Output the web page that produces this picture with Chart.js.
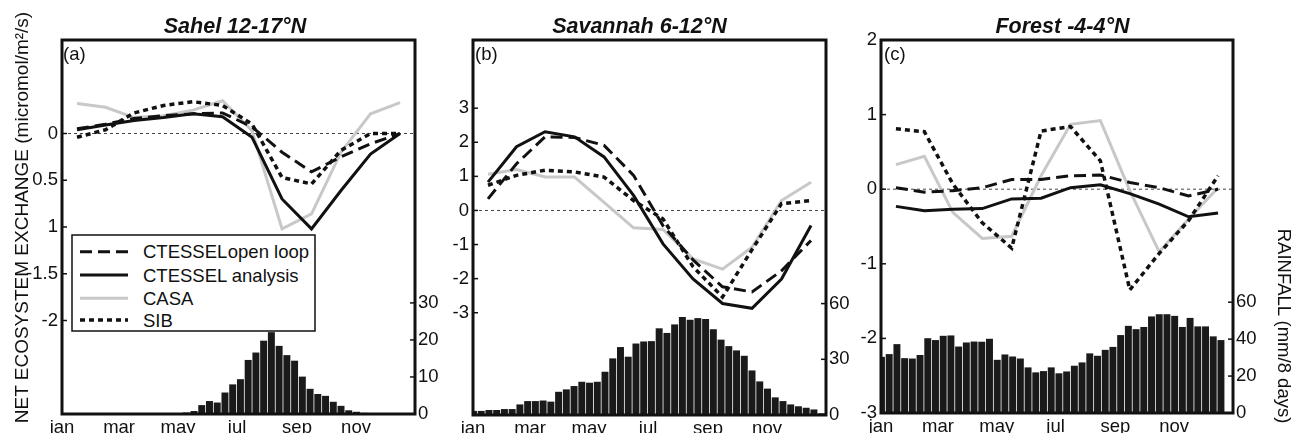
<!DOCTYPE html>
<html>
<head>
<meta charset="utf-8">
<script src="https://cdn.jsdelivr.net/npm/chart.js@4.4.1/dist/chart.umd.min.js"></script>
<style>
  html, body { margin: 0; padding: 0; background: #fff; }
  #wrap { position: relative; width: 1294px; height: 433px; overflow: hidden; }
  canvas { position: absolute; top: 0; }
  #overlay { position: absolute; left: 0; top: 0; }
  #overlay text { font-family: "Liberation Sans", Arial, sans-serif; fill: #111; }
</style>
</head>
<body>
<div id="wrap">
  <canvas id="sahel" width="440" height="433" style="left:0px"></canvas>
  <canvas id="savannah" width="410" height="433" style="left:440px"></canvas>
  <canvas id="forest" width="444" height="433" style="left:850px"></canvas>
  <svg id="overlay" width="1294" height="433"></svg>
</div>
<script>
// x positions are day of year
const monthMid = [15.5, 45, 74.5, 105, 135.5, 166, 196.5, 227.5, 258, 288.5, 319, 349.5];
const monthTickDays = [0, 59, 120, 181, 243, 304];
const monthTickText = ["jan", "mar", "may", "jul", "sep", "nov"];
const seriesNames = ["CTESSEL open loop", "CTESSEL analysis", "CASA", "SIB"];

// Sahel 12-17N
const sahelOpenLoop = [0.05, 0.10, 0.16, 0.19, 0.21, 0.22, 0.07, -0.20, -0.41, -0.25, -0.11, 0.00];
const sahelAnalysis = [0.04, 0.09, 0.14, 0.17, 0.21, 0.18, -0.04, -0.70, -1.02, -0.61, -0.22, 0.00];
const sahelCasa = [0.32, 0.28, 0.17, 0.19, 0.25, 0.35, 0.03, -1.02, -0.86, -0.20, 0.21, 0.33];
const sahelSib = [-0.04, 0.04, 0.22, 0.30, 0.34, 0.30, 0.10, -0.47, -0.54, -0.18, 0.00, 0.00];
const sahelRain = [0, 0, 0, 0, 0, 0, 0, 0, 0, 0, 0, 0, 0, 0, 0,
  0.2, 0.4, 0.8, 2.4, 3.5, 3.1, 5.8, 8.0, 9.4, 14.6, 16.6, 19.8, 22.1, 18.4, 15.9,
  14.4, 10.1, 6.8, 5.4, 4.9, 3.3, 2.2, 1.0, 0.6, 0.3, 0.1, 0, 0, 0, 0, 0];
const sahelTickVals = [0, -0.5, -1, -1.5, -2];
const sahelTickText = ["0", "0.5", "1", "-1.5", "-2"];
const sahelRainTicks = [0, 10, 20, 30];

// Savannah 6-12N
const savOpenLoop = [0.34, 1.37, 2.16, 2.14, 1.91, 1.03, -0.45, -1.45, -2.24, -2.39, -1.77, -0.88];
const savAnalysis = [0.83, 1.87, 2.31, 2.16, 1.57, 0.44, -0.98, -2.01, -2.73, -2.87, -2.01, -0.44];
const savCasa = [1.06, 1.20, 0.98, 0.98, 0.24, -0.51, -0.56, -1.42, -1.72, -1.08, 0.29, 0.83];
const savSib = [0.74, 1.03, 1.18, 1.13, 0.98, 0.29, -0.25, -1.65, -2.54, -1.15, 0.20, 0.29];
const savRain = [2.2, 2.2, 2.7, 2.7, 3.2, 3.2, 5.7, 7.5, 7.5, 7.8, 7.2, 12.5, 13.8, 15.6, 17.9,
  17.4, 17.9, 23.3, 30.5, 36.6, 31.4, 38.5, 39.6, 39.8, 46.7, 44.2, 48.8, 52.8, 51.3, 52.2,
  51.7, 46.2, 40.6, 37.1, 34.8, 31.9, 24.0, 18.1, 14.2, 9.5, 7.5, 5.7, 4.7, 3.9, 3.0, 0.9];
const savTickVals = [3, 2, 1, 0, -1, -2, -3];
const savTickText = ["3", "2", "1", "0", "-1", "-2", "-3"];
const savRainTicks = [0, 30, 60];

// Forest -4-4N
const forOpenLoop = [0.02, -0.04, -0.02, 0.02, 0.13, 0.13, 0.18, 0.19, 0.09, 0.02, -0.09, 0.00];
const forAnalysis = [-0.23, -0.29, -0.27, -0.26, -0.13, -0.12, 0.02, 0.06, -0.06, -0.20, -0.37, -0.32];
const forCasa = [0.33, 0.44, -0.31, -0.66, -0.63, 0.18, 0.87, 0.92, -0.02, -0.84, -0.40, 0.02];
const forSib = [0.81, 0.77, 0.07, -0.45, -0.79, 0.78, 0.84, 0.38, -1.35, -0.86, -0.42, 0.18];
const forRain = [30.4, 31.9, 37.3, 29.7, 29.5, 31.4, 40.5, 39.5, 41.8, 42.0, 36.0, 38.2, 38.7, 38.6, 40.2,
  28.8, 31.7, 30.6, 29.5, 24.7, 22.0, 22.7, 24.7, 21.5, 22.5, 25.6, 27.4, 32.3, 31.0, 34.2,
  35.8, 42.2, 47.2, 45.4, 46.6, 52.3, 53.5, 53.5, 52.6, 46.6, 51.5, 46.9, 46.9, 41.5, 39.5, 0];
const forTickVals = [2, 1, 0, -1, -2, -3];
const forTickText = ["2", "1", "0", "-1", "-2", "-3"];
const forRainTicks = [0, 20, 40, 60];

const FONT = '"Liberation Sans", Arial, sans-serif';
const INK = "#111";
const lineStyles = [
  { color: INK, dash: [12, 6], width: 3 },     // open loop
  { color: INK, dash: [], width: 3 },          // analysis
  { color: "#c8c8c8", dash: [], width: 3 },    // CASA
  { color: INK, dash: [5, 4], width: 3.5 }     // SIB
];

// box + small inward ticks
const framePlugin = {
  id: "frame",
  afterDraw(chart) {
    const { ctx, chartArea: a, scales } = chart;
    ctx.save();
    ctx.strokeStyle = INK;
    ctx.lineWidth = 1.5;
    ["y", "y2"].forEach(id => {
      const s = scales[id];
      s.ticks.forEach(t => {
        const py = s.getPixelForValue(t.value);
        ctx.beginPath();
        if (id === "y") { ctx.moveTo(a.left, py); ctx.lineTo(a.left + 5, py); }
        else { ctx.moveTo(a.right, py); ctx.lineTo(a.right - 5, py); }
        ctx.stroke();
      });
    });
    ctx.lineWidth = 3;
    ctx.strokeRect(a.left, a.top, a.right - a.left, a.bottom - a.top);
    ctx.restore();
  }
};

function makePanel(id, cfg) {
  const lines = cfg.series.map((vals, i) => ({
    type: "line",
    label: seriesNames[i],
    data: vals.map((v, k) => ({ x: monthMid[k], y: v })),
    borderColor: lineStyles[i].color,
    borderDash: lineStyles[i].dash,
    borderWidth: lineStyles[i].width,
    borderCapStyle: "butt",
    pointRadius: 0,
    tension: 0,
    fill: false,
    order: i === 2 ? 4 : 3 - i,
    yAxisID: "y"
  }));
  const zero = {
    type: "line",
    data: [{ x: 0, y: 0 }, { x: 365, y: 0 }],
    borderColor: "#444",
    borderWidth: 1,
    borderDash: [3, 3],
    pointRadius: 0,
    order: 6,
    yAxisID: "y"
  };
  const bars = {
    type: "bar",
    data: cfg.rain.map((v, j) => ({ x: 8 * j + 0.5, y: v })),
    backgroundColor: "#1a1a1a",
    borderWidth: 0,
    barPercentage: 0.9,
    categoryPercentage: 1,
    order: 10,
    yAxisID: "y2"
  };
  const tickFont = { family: FONT, size: 18.5 };
  return new Chart(document.getElementById(id), {
    type: "bar",
    data: { datasets: [bars, zero, ...lines] },
    options: {
      responsive: false,
      animation: false,
      devicePixelRatio: 1,
      layout: { padding: { top: 40, left: 0, right: 0, bottom: 0 } },
      plugins: { legend: { display: false }, tooltip: { enabled: false } },
      scales: {
        x: {
          type: "linear", min: 0, max: 365, offset: false,
          grid: { display: false, drawTicks: false },
          border: { display: false },
          afterBuildTicks: s => { s.ticks = monthTickDays.map(v => ({ value: v })); },
          afterFit: s => { s.height = cfg.xh; },
          ticks: { autoSkip: false, maxRotation: 0, padding: 3, color: INK, font: tickFont,
            callback: (v, i) => monthTickText[i] }
        },
        y: {
          type: "linear", position: "left", min: cfg.ymin, max: cfg.ymax,
          grid: { display: false, drawTicks: false },
          border: { display: false },
          afterBuildTicks: s => { s.ticks = cfg.tickVals.map(v => ({ value: v })); },
          afterFit: s => { s.width = cfg.yw; },
          ticks: { padding: 4, color: INK, font: tickFont, callback: (v, i) => cfg.tickText[i] }
        },
        y2: {
          type: "linear", position: "right", min: 0, max: cfg.rmax,
          grid: { display: false, drawTicks: false },
          border: { display: false },
          afterBuildTicks: s => { s.ticks = cfg.rainTicks.map(v => ({ value: v })); },
          afterFit: s => { s.width = cfg.y2w; },
          ticks: { padding: 3, color: INK, font: tickFont, callback: (v, i) => String(cfg.rainTicks[i]) }
        }
      }
    },
    plugins: [framePlugin]
  });
}

makePanel("sahel", {
  series: [sahelOpenLoop, sahelAnalysis, sahelCasa, sahelSib], rain: sahelRain,
  ymin: -3, ymax: 1, tickVals: sahelTickVals, tickText: sahelTickText,
  rmax: 101, rainTicks: sahelRainTicks, yw: 62, y2w: 25, xh: 19
});
makePanel("savannah", {
  series: [savOpenLoop, savAnalysis, savCasa, savSib], rain: savRain,
  ymin: -6, ymax: 5, tickVals: savTickVals, tickText: savTickText,
  rmax: 202, rainTicks: savRainTicks, yw: 33, y2w: 24, xh: 18
});
makePanel("forest", {
  series: [forOpenLoop, forAnalysis, forCasa, forSib], rain: forRain,
  ymin: -3, ymax: 2, tickVals: forTickVals, tickText: forTickText,
  rmax: 202, rainTicks: forRainTicks, yw: 31, y2w: 61, xh: 20
});

// text overlay: titles, panel letters, axis titles, legend
const svg = document.getElementById("overlay");
const NS = "http://www.w3.org/2000/svg";
function el(tag, attrs, txt, parent) {
  const e = document.createElementNS(NS, tag);
  for (const k in attrs) e.setAttribute(k, attrs[k]);
  if (txt !== undefined) e.textContent = txt;
  (parent || svg).appendChild(e);
  return e;
}
const titles = [["Sahel 12-17°N", 235], ["Savannah 6-12°N", 639.5], ["Forest -4-4°N", 1062.5]];
titles.forEach(([t, x]) => el("text", { x, y: 33, "text-anchor": "middle", "font-size": 21.5,
  "font-weight": "bold", "font-style": "italic" }, t));
[["(a)", 63], ["(b)", 475], ["(c)", 884]].forEach(([t, x]) =>
  el("text", { x, y: 60, "font-size": 18.5 }, t));
el("text", { transform: "translate(28,217.5) rotate(-90)", "text-anchor": "middle", "font-size": 19 },
  "NET ECOSYSTEM EXCHANGE (micromol/m²/s)");
el("text", { transform: "translate(1278,326) rotate(90)", "text-anchor": "middle", "font-size": 18.5 },
  "RAINFALL (mm/8 days)");

el("rect", { x: 72, y: 235, width: 243, height: 96, fill: "#fff", stroke: INK, "stroke-width": 1.5 });
const rowY = [251.7, 275, 298.3, 320];
seriesNames.forEach((name, i) => {
  const s = lineStyles[i];
  el("line", { x1: 80, x2: 128, y1: rowY[i], y2: rowY[i], stroke: s.color, "stroke-width": s.width,
    "stroke-dasharray": s.dash.length ? s.dash.join(" ") : "none" });
  const t = el("text", { x: 143, y: rowY[i] + 6.5, "font-size": 18.5 });
  // first entry: the gap after "CTESSEL" is very tight in the original
  const cut = i === 0 ? name.indexOf(" ") : -1;
  if (cut > 0) {
    el("tspan", {}, name.slice(0, cut), t);
    el("tspan", { dx: -4 }, name.slice(cut), t);
  } else {
    t.textContent = name;
  }
});
</script>
</body>
</html>
